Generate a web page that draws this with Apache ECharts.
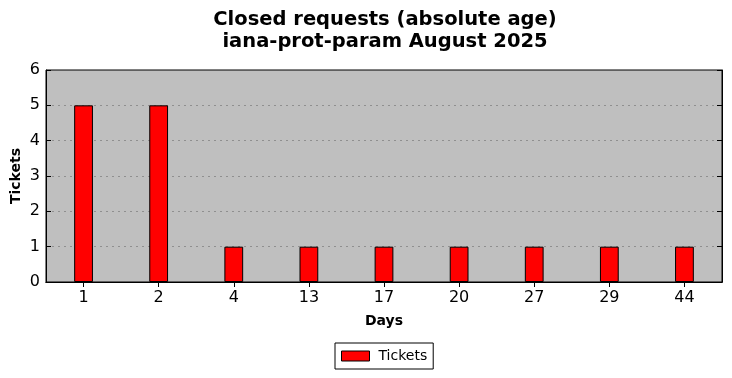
<!DOCTYPE html>
<html><head><meta charset="utf-8">
<script src="https://cdn.jsdelivr.net/npm/echarts@6/dist/echarts.min.js"></script>
<style>html,body{margin:0;padding:0;background:#fff}#c{width:732px;height:378px}</style>
</head><body><div id="c"></div>
<script>
const categories = ['1','2','4','13','17','20','27','29','44'];
const tickets = [5,5,1,1,1,1,1,1,1];
const yTicks = [0,1,2,3,4,5,6];

const chart = echarts.init(document.getElementById('c'), null, {renderer:'canvas'});
const F = 'DejaVu Sans';
chart.setOption({
  animation:false,
  backgroundColor:'#ffffff',
  title:{
    text:'Closed requests (absolute age)\niana-prot-param August 2025',
    left:380, top:4, textAlign:'center',
    textStyle:{fontFamily:F,fontSize:19.5,fontWeight:'bold',color:'#000',lineHeight:22}
  },
  legend:{
    data:['Tickets'], left:335, top:343, orient:'horizontal',
    padding:[6,6,6,6], itemWidth:28, itemHeight:10, itemGap:8,
    borderColor:'#000', borderWidth:1, borderRadius:0,
    textStyle:{fontFamily:F,fontSize:14,color:'#000',padding:[0,0,0,4]},
    icon:'rect', itemStyle:{borderColor:'#000',borderWidth:1}
  },
  grid:{left:46,right:10,top:70,bottom:96,outerBoundsMode:'none',containLabel:false,
    show:true,backgroundColor:'#bfbfbf',borderColor:'#000',borderWidth:1},
  xAxis:[{
    type:'category', data:categories, position:'bottom',
    name:'Days', nameLocation:'middle', nameGap:32, nameMoveOverlap:false,
    nameTextStyle:{fontFamily:F,fontSize:14,fontWeight:'bold',color:'#000'},
    axisLine:{show:true,lineStyle:{color:'#000'}},
    axisTick:{show:true,alignWithLabel:true,inside:true,length:5,lineStyle:{color:'#000'}},
    axisLabel:{fontFamily:F,fontSize:16,color:'#000',margin:8},
    splitLine:{show:false}
  },{
    type:'category', data:categories, position:'top',
    axisLine:{show:true,lineStyle:{color:'#000'}},
    axisTick:{show:true,alignWithLabel:true,inside:true,length:5,lineStyle:{color:'#000'}},
    axisLabel:{show:false}, splitLine:{show:false}
  }],
  yAxis:[{
    type:'value', min:0, max:6, interval:1, position:'left',
    name:'Tickets', nameLocation:'middle', nameGap:23, nameMoveOverlap:false,
    nameTextStyle:{fontFamily:F,fontSize:14,fontWeight:'bold',color:'#000'},
    axisLine:{show:true,lineStyle:{color:'#000'}},
    axisTick:{show:true,inside:true,length:5,lineStyle:{color:'#000'}},
    axisLabel:{fontFamily:F,fontSize:16,color:'#000',margin:6,
      formatter:v=>yTicks.includes(v)?String(v):''},
    splitLine:{show:true,showMinLine:false,showMaxLine:false,lineStyle:{color:'#8f8f8f',type:[2,4],width:1}}
  },{
    type:'value', min:0, max:6, interval:1, position:'right',
    axisLine:{show:true,lineStyle:{color:'#000'}},
    axisTick:{show:true,inside:true,length:5,lineStyle:{color:'#000'}},
    axisLabel:{show:false}, splitLine:{show:false}
  }],
  series:[{
    name:'Tickets', type:'bar', data:tickets, xAxisIndex:0, yAxisIndex:0,
    barWidth:'25%',
    itemStyle:{color:'#ff0000',borderColor:'#000',borderWidth:1}
  }]
});
</script></body></html>
